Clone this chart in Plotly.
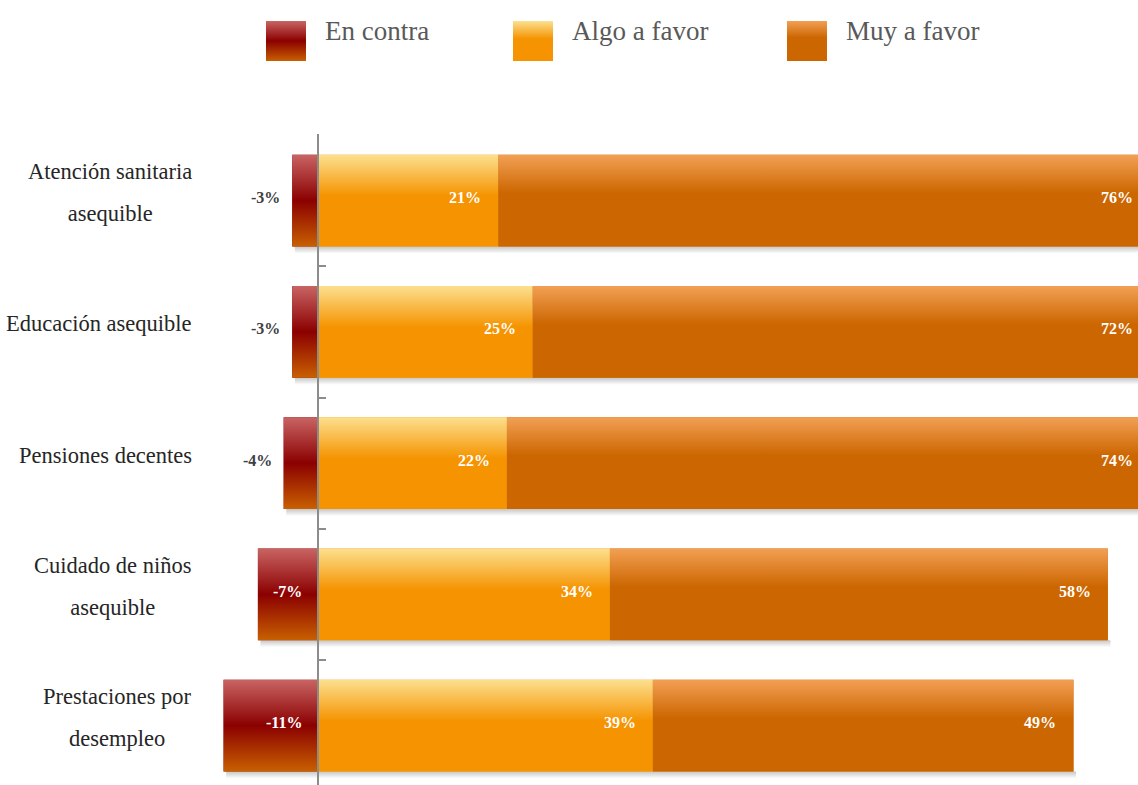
import plotly.graph_objects as go

# ---------------- data ----------------
categories = ["Atención sanitaria<br>asequible", "Educación asequible", "Pensiones decentes",
              "Cuidado de niños<br>asequible", "Prestaciones por<br>desempleo"]
series_names = ["En contra", "Algo a favor", "Muy a favor"]
en_contra = [-3, -3, -4, -7, -11]
algo_a_favor = [21, 25, 22, 34, 39]
muy_a_favor = [76, 72, 74, 58, 49]

# ---------------- layout constants ----------------
W, H = 1138, 785
PX_PER_PCT = 8.585
ZERO_PX = 318
PLOT_LEFT = 200
PLOT_TOP = 134
ROW_PX = 131.25
XMIN = -(ZERO_PX - PLOT_LEFT) / PX_PER_PCT
XMAX = (W - ZERO_PX) / PX_PER_PCT
YTOP = -0.5 - 1 / ROW_PX
YBOT = YTOP + (H - PLOT_TOP) / ROW_PX
BAR_W = 0.70
HALF = BAR_W / 2


def top_to_bottom(stops):
    # fillgradient colorscale runs from the visual bottom to the top here
    return [[round(1 - p, 4), c] for p, c in reversed(stops)]


solid = {"En contra": "#8B0000", "Algo a favor": "#F59300", "Muy a favor": "#CC6600"}
grad = {
    "En contra": top_to_bottom([[0, "#C96464"], [0.5, "#8B0000"], [1, "#C86000"]]),
    "Algo a favor": top_to_bottom([[0, "#FCE08F"], [0.45, "#F59300"], [1, "#F59300"]]),
    "Muy a favor": top_to_bottom([[0, "#F2A055"], [0.42, "#CC6600"], [1, "#CC6600"]]),
}
shadow_scale = top_to_bottom([[0, "rgba(0,0,0,0.22)"], [1, "rgba(0,0,0,0)"]])

fig = go.Figure()
ys = list(range(len(categories)))

# base bars (data layer)
for name, vals in zip(series_names, [en_contra, algo_a_favor, muy_a_favor]):
    fig.add_trace(go.Bar(y=ys, x=vals, name=name, orientation="h", width=BAR_W,
                         marker=dict(color=solid[name], line=dict(width=0)),
                         showlegend=False, hoverinfo="x+name"))

# soft drop shadows under each row
for i in ys:
    lo = en_contra[i] + 0.3
    hi = min(algo_a_favor[i] + muy_a_favor[i], XMAX + 1) + 0.3
    y0 = i + HALF
    y1 = i + HALF + 7 / ROW_PX
    fig.add_trace(go.Scatter(x=[lo, hi, hi, lo, lo], y=[y0, y0, y1, y1, y0], mode="none",
                             fill="toself", showlegend=False, hoverinfo="skip",
                             fillgradient=dict(type="vertical", colorscale=shadow_scale)))

# gradient faces of the bar segments (computed from the data)
for i in ys:
    segs = [("En contra", en_contra[i], 0),
            ("Algo a favor", 0, algo_a_favor[i]),
            ("Muy a favor", algo_a_favor[i], algo_a_favor[i] + muy_a_favor[i])]
    for name, x0, x1 in segs:
        y0, y1 = i - HALF, i + HALF
        fig.add_trace(go.Scatter(x=[x0, x1, x1, x0, x0], y=[y0, y0, y1, y1, y0], mode="none",
                                 fill="toself", showlegend=False, hoverinfo="skip",
                                 fillgradient=dict(type="vertical", colorscale=grad[name])))

annotations = []
val_font = dict(family="Liberation Serif", size=16, color="#FFFFFF")
for i in ys:
    v = en_contra[i]
    if abs(v) >= 5:
        annotations.append(dict(x=0, y=i, xref="x", yref="y", text=f"<b>{v}%</b>", showarrow=False,
                                xanchor="right", xshift=-14, yshift=3, font=val_font))
    else:
        annotations.append(dict(x=v, y=i, xref="x", yref="y", text=f"<b>{v}%</b>", showarrow=False,
                                xanchor="right", xshift=-10, yshift=3,
                                font=dict(family="Liberation Serif", size=16, color="#404040")))
    a = algo_a_favor[i]
    annotations.append(dict(x=a, y=i, xref="x", yref="y", text=f"<b>{a}%</b>", showarrow=False,
                            xanchor="right", xshift=-15, yshift=3, font=val_font))
    m = muy_a_favor[i]
    end = a + m
    shift = -15
    if end > XMAX:
        end, shift = XMAX, -3
    annotations.append(dict(x=end, y=i, xref="x", yref="y", text=f"<b>{m}%</b>", showarrow=False,
                            xanchor="right", xshift=shift, yshift=3, font=val_font))

# category labels (centered lines, right-aligned block)
for i, lab in enumerate(categories):
    lines = lab.split("<br>")
    if len(lines) > 1:
        txt = "<br>".join(f"<span style='font-size:22.5px'>{ln}</span>" for ln in lines)
        fsize = 32
    else:
        txt = lab
        fsize = 22.5
    annotations.append(dict(x=194 / W, y=i, xref="paper", yref="y", text=txt, showarrow=False,
                            xanchor="right", yanchor="middle", align="center", yshift=8,
                            font=dict(family="Liberation Serif", size=fsize, color="#262626")))

# custom legend with gradient swatches (pixel coordinates of the legend strip)
leg_left = [266, 513, 787]
LEG_TOP, LEG_BOT = 21, 61
for name, lx in zip(series_names, leg_left):
    fig.add_trace(go.Scatter(x=[lx, lx + 40, lx + 40, lx, lx],
                             y=[LEG_TOP, LEG_TOP, LEG_BOT, LEG_BOT, LEG_TOP], mode="none",
                             fill="toself", showlegend=False, hoverinfo="skip",
                             xaxis="x2", yaxis="y2",
                             fillgradient=dict(type="vertical", colorscale=grad[name])))
    annotations.append(dict(x=lx + 57, y=LEG_TOP + 10, xref="x2", yref="y2", text=name, showarrow=False,
                            xanchor="left", yanchor="middle",
                            font=dict(family="Liberation Serif", size=27, color="#595959")))

fig.update_layout(
    width=W, height=H,
    margin=dict(l=0, r=0, t=0, b=0),
    paper_bgcolor="white", plot_bgcolor="rgba(0,0,0,0)",
    barmode="relative",
    xaxis=dict(domain=[PLOT_LEFT / W, 1], range=[XMIN, XMAX], visible=False, fixedrange=True),
    yaxis=dict(domain=[0, (H - PLOT_TOP) / H], range=[YBOT, YTOP], anchor="free",
               position=ZERO_PX / W, showline=True, linecolor="#8c8c8c", linewidth=2,
               ticks="inside", ticklen=7, tickwidth=2, tickcolor="#8c8c8c",
               tickvals=[i - 0.5 for i in ys], showticklabels=False,
               showgrid=False, zeroline=False, fixedrange=True),
    xaxis2=dict(domain=[0, 1], range=[0, W], visible=False, anchor="y2", fixedrange=True),
    yaxis2=dict(domain=[1 - 80 / H, 1], range=[80, 0], visible=False, anchor="x2", fixedrange=True),
    annotations=annotations,
    showlegend=False,
)

fig.write_html("out.html", config=dict(displayModeBar=False),
               post_script="document.body.style.margin='0';document.body.style.overflow='hidden';")
